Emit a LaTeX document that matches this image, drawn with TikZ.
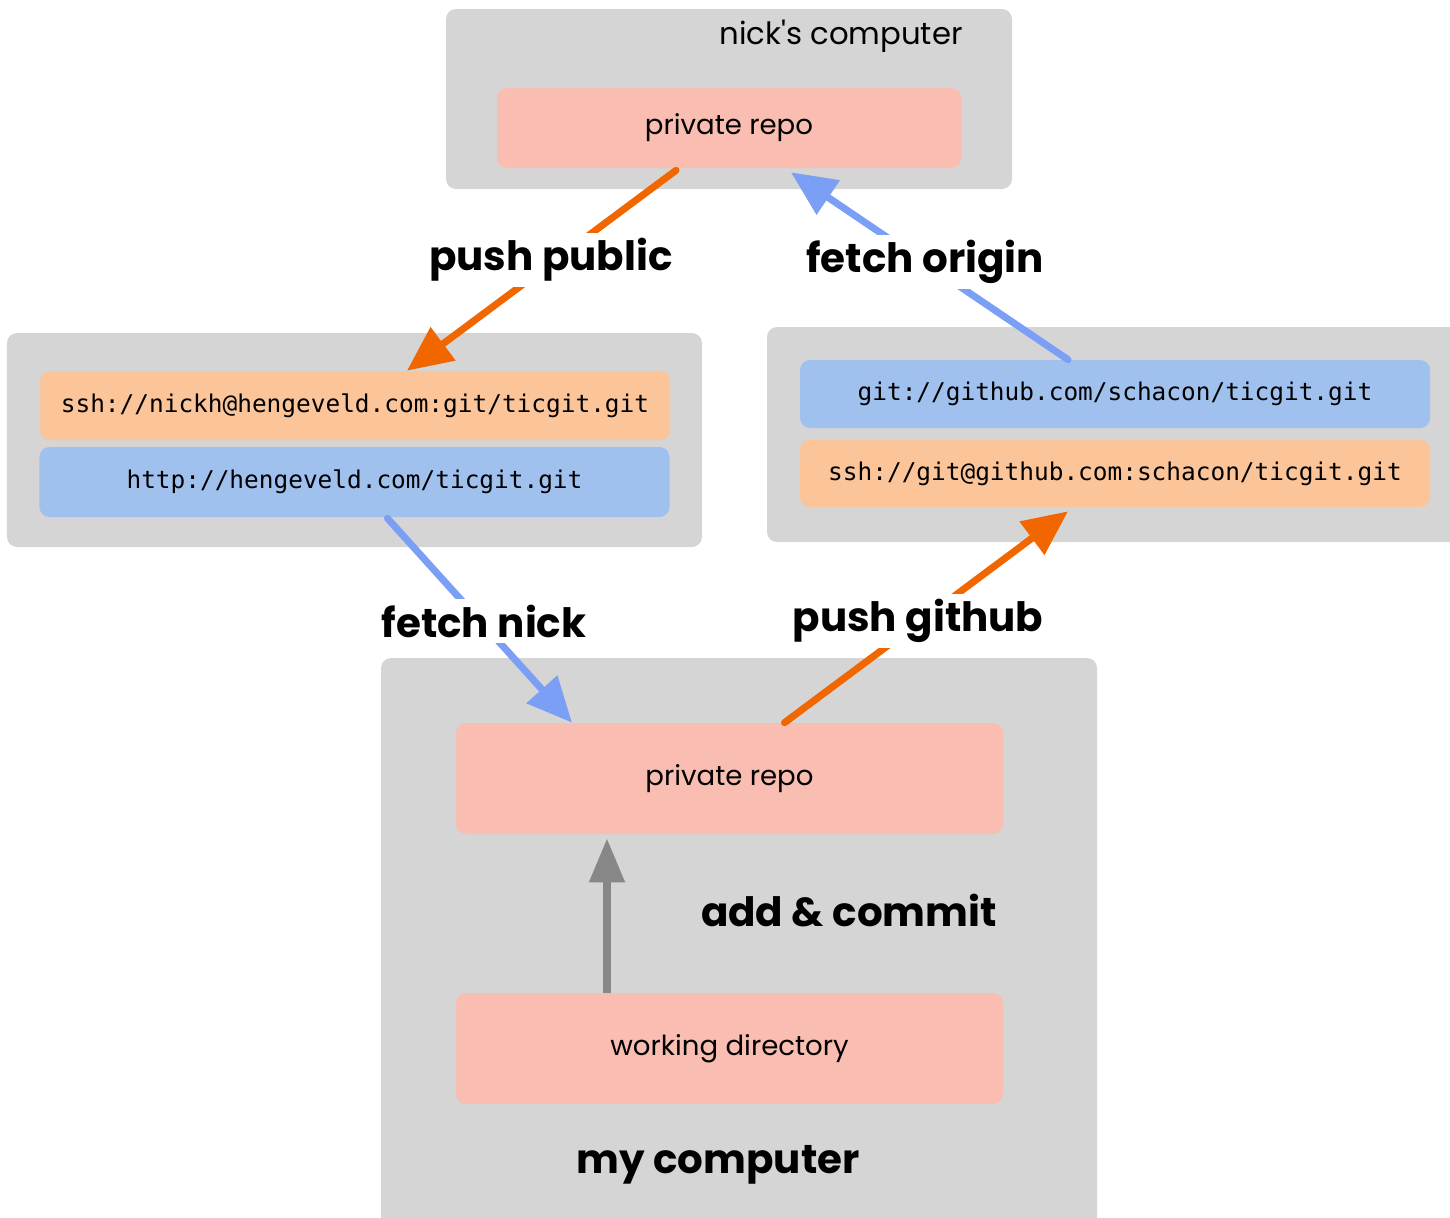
\documentclass[tikz,border=0pt]{standalone}
\usepackage{fontspec}
\setmainfont{Poppins}
\setmonofont{DejaVu Sans Mono}
\usetikzlibrary{arrows.meta}

\definecolor{boxgray}{HTML}{D5D5D5}
\definecolor{repopink}{HTML}{F9BDB1}
\definecolor{urlorange}{HTML}{FBC499}
\definecolor{urlblue}{HTML}{A0C1EE}
\definecolor{pushorange}{HTML}{F26600}
\definecolor{fetchblue}{HTML}{7B9FF5}
\definecolor{commitgray}{HTML}{878787}

\begin{document}
\begin{tikzpicture}[
    machine/.style={fill=boxgray, rounded corners=0.2cm, inner sep=0pt},
    repo/.style={fill=repopink, rounded corners=0.2cm, inner sep=0pt, font=\fontsize{15.7}{18}\selectfont},
    url/.style={rounded corners=0.2cm, inner sep=0pt, minimum width=12.6cm, font=\ttfamily\fontsize{13.9}{16}\selectfont},
    action/.style={fill=white, inner sep=3pt, font=\bfseries\fontsize{23}{27}\selectfont},
    flow/.style={line width=4pt, line cap=round, -{Triangle[length=0.9cm, width=0.8cm]}}
]

    % Cadre de l'image (1 cm = 50 px)
    \useasboundingbox (0, 0) rectangle (29, -24.36);

    % ==============================================
    % Machine de nick (en haut)
    % ==============================================
    \node[machine, minimum width=11.32cm, minimum height=3.6cm] (nickpc) at (14.58, -1.98) {};
    \node[font=\fontsize{17.5}{20}\selectfont] (nicklabel) at (16.82, -0.72) {nick\textquotesingle s computer};
    \node[repo, minimum width=9.28cm, minimum height=1.6cm] (nickrepo) at (14.58, -2.56) {private repo};

    % ==============================================
    % Remote "nick" (a gauche) et remote "origin" (a droite)
    % ==============================================
    \node[machine, minimum width=13.9cm, minimum height=4.28cm] (nickremote) at (7.09, -8.8) {};
    \node[url, fill=urlorange, minimum height=1.38cm] (nickssh) at (7.1, -8.11) {\raisebox{-0.06cm}{ssh://nickh@hengeveld.com:git/ticgit.git}};
    \node[url, fill=urlblue, minimum height=1.4cm] (nickhttp) at (7.09, -9.64) {\raisebox{-0.06cm}{http://hengeveld.com/ticgit.git}};

    \node[machine, minimum width=14.06cm, minimum height=4.3cm] (hubremote) at (22.37, -8.69) {};
    \node[url, fill=urlblue, minimum height=1.36cm] (hubgit) at (22.3, -7.88) {\raisebox{-0.06cm}{git://github.com/schacon/ticgit.git}};
    \node[url, fill=urlorange, minimum height=1.34cm] (hubssh) at (22.3, -9.47) {\raisebox{-0.06cm}{ssh://git@github.com:schacon/ticgit.git}};

    % ==============================================
    % Ma machine (en bas)
    % ==============================================
    \node[machine, minimum width=14.32cm, minimum height=11.64cm] (mypc) at (14.78, -18.98) {};
    \node[repo, minimum width=10.94cm, minimum height=2.22cm] (myrepo) at (14.59, -15.57) {private repo};
    \node[repo, minimum width=10.94cm, minimum height=2.22cm] (workdir) at (14.59, -20.97) {working directory};
    \node[font=\bfseries\fontsize{23}{27}\selectfont] (mylabel) at (14.36, -23.3) {my computer};

    % Fleches push / fetch
    \draw[flow, pushorange] ([xshift=-1.06cm, yshift=-0.04cm]nickrepo.south) -- ([xshift=1.04cm]nickssh.north);
    \draw[flow, fetchblue] ([xshift=-0.94cm]hubgit.north) -- ([xshift=1.24cm, yshift=-0.08cm]nickrepo.south);
    \draw[flow, fetchblue] ([xshift=0.66cm, yshift=-0.02cm]nickhttp.south) -- ([xshift=-3.15cm]myrepo.north);
    \draw[flow, pushorange] ([xshift=1.1cm]myrepo.north) -- ([xshift=-0.94cm, yshift=-0.08cm]hubssh.south);

    % Commit local
    \draw[line width=4.5pt, commitgray, -{Triangle[length=0.88cm, width=0.68cm]}] (workdir.north -| 12.14, 0) -- ([yshift=-0.08cm]myrepo.south -| 12.14, 0);

    % Etiquettes (fond blanc qui coupe les fleches)
    \node[action] (pushpublic) at (11.02, -5.2) {push public};
    \node[action] (fetchorigin) at (18.5, -5.24) {fetch origin};
    \node[action] (fetchnick) at (9.68, -12.42) {fetch nick};
    \node[action] (pushgithub) at (18.36, -12.42) {push github};
    \node[font=\bfseries\fontsize{23}{27}\selectfont] (commitlabel) at (16.98, -18.22) {add \& commit};

\end{tikzpicture}
\end{document}
